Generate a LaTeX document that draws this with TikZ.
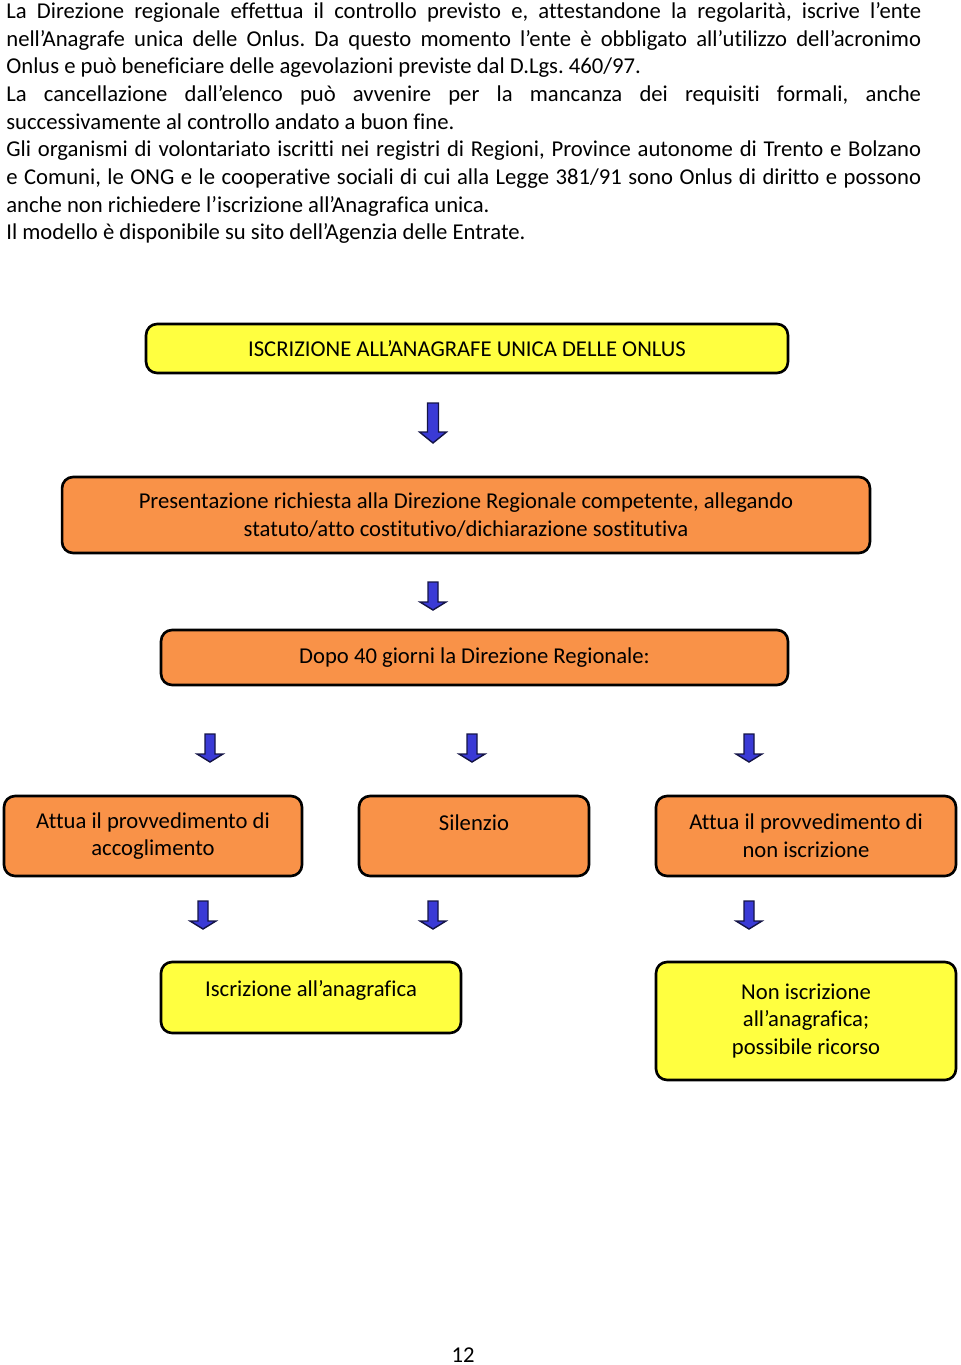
\documentclass[tikz,border=0pt]{standalone}
\usepackage{fontspec}
\setmainfont{Carlito}[Ligatures=NoCommon]
\usetikzlibrary{positioning}
\frenchspacing

\definecolor{boxyellow}{RGB}{255,255,64}
\definecolor{boxorange}{RGB}{249,146,72}
\definecolor{arrowblue}{RGB}{58,58,214}
\definecolor{arrowline}{RGB}{20,20,70}

\begin{document}
\begin{tikzpicture}[x=0.02cm, y=-0.02cm,
  every node/.style={font=\fontsize{12.9}{15.75}\selectfont},
  box/.style={draw=black, line width=1.5pt, rounded corners=0.22cm, align=center, inner sep=0.15cm},
  yellow box/.style={box, fill=boxyellow},
  orange box/.style={box, fill=boxorange},
  big arrow/.pic={\draw[arrowline, fill=arrowblue, line width=0.8pt]
    (-5.5,-40) -- (5.5,-40) -- (5.5,-11) -- (13.5,-11) -- (0,0) -- (-13.5,-11) -- (-5.5,-11) -- cycle;},
  small arrow/.pic={\draw[arrowline, fill=arrowblue, line width=0.8pt]
    (-5,-28) -- (5,-28) -- (5,-8) -- (13,-8) -- (0,0) -- (-13,-8) -- (-5,-8) -- cycle;}]

  \useasboundingbox (0,0) rectangle (960,1365);

  % testo introduttivo
  \node[anchor=north west, inner sep=0pt, text width=18.3cm, align=justify] (testo) at (6,2) {%
    La Direzione regionale effettua il controllo previsto e, attestandone la regolarità, iscrive l’ente\linebreak
    nell’Anagrafe unica delle Onlus. Da questo momento l’ente è obbligato all’utilizzo dell’acronimo\linebreak
    Onlus e può beneficiare delle agevolazioni previste dal D.Lgs. 460/97.\par
    La cancellazione dall’elenco può avvenire per la mancanza dei requisiti formali, anche\linebreak
    successivamente al controllo andato a buon fine.\par
    Gli organismi di volontariato iscritti nei registri di Regioni, Province autonome di Trento e Bolzano\linebreak
    e Comuni, le ONG e le cooperative sociali di cui alla Legge 381/91 sono Onlus di diritto e possono\linebreak
    anche non richiedere l’iscrizione all’Anagrafica unica.\par
    Il modello è disponibile su sito dell’Agenzia delle Entrate.};

  \node[yellow box, minimum width=12.84cm, minimum height=0.98cm] (anagrafe) at (467,348.5) {ISCRIZIONE ALL’ANAGRAFE UNICA DELLE ONLUS};
  \node[orange box, minimum width=16.16cm, minimum height=1.52cm] (richiesta) at (466,515) {Presentazione richiesta alla Direzione Regionale competente, allegando\\statuto/atto costitutivo/dichiarazione sostitutiva};
  \node[orange box, minimum width=12.54cm, minimum height=1.1cm] (direzione) at (474.5,657.5) {Dopo 40 giorni la Direzione Regionale:};

  \node[orange box, minimum width=5.96cm, minimum height=1.6cm] (accoglimento) at (153,836) {Attua il provvedimento di\\accoglimento};
  \node[orange box, minimum width=4.6cm, minimum height=1.6cm, text height=0.53cm, text depth=0.77cm] (silenzio) at (474,836) {Silenzio};
  \node[orange box, minimum width=6cm, minimum height=1.6cm] (diniego) at (806,836) {Attua il provvedimento di\\non iscrizione};

  \node[yellow box, minimum width=6cm, minimum height=1.42cm, text height=0.53cm, text depth=0.59cm] (iscrizione) at (311,997.5) {Iscrizione all’anagrafica};
  \node[yellow box, minimum width=6cm, minimum height=2.36cm] (ricorso) at (806,1021) {Non iscrizione\\all’anagrafica;\\possibile ricorso};

  \pic at (433,443) {big arrow};
  \pic at (433,610) {small arrow};
  \pic at (210,762) {small arrow};
  \pic at (472,762) {small arrow};
  \pic at (749,762) {small arrow};
  \pic at (203,929) {small arrow};
  \pic at (433,929) {small arrow};
  \pic at (749,929) {small arrow};

  \node[anchor=base, inner sep=0pt] (pagina) at (463,1362) {12};
\end{tikzpicture}
\end{document}
